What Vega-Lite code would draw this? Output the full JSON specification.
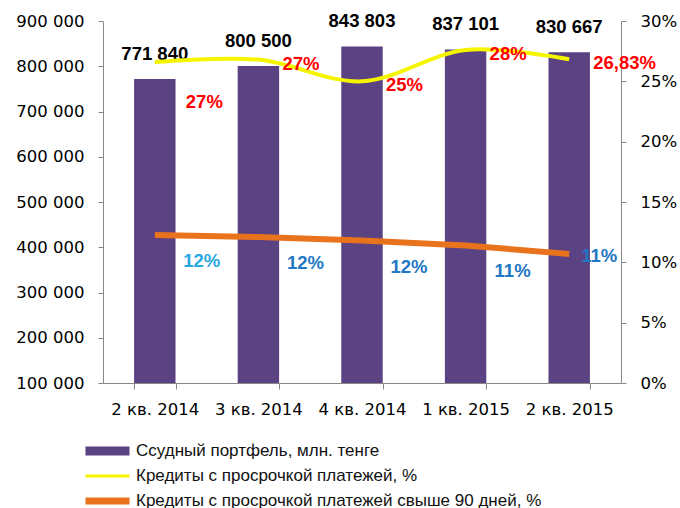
{
  "$schema": "https://vega.github.io/schema/vega-lite/v6.json",
  "width": 518,
  "height": 362,
  "autosize": "none",
  "padding": {"left": 103, "top": 21, "right": 59, "bottom": 125},
  "config": {
    "view": {"stroke": null},
    "font": "DejaVu Sans",
    "locale": {"number": {"decimal": ",", "thousands": " ", "grouping": [3], "currency": ["", ""]}}
  },
  "data": {
    "values": [
      {"q": "2 кв. 2014", "portfolio": 771840, "overdue": 0.266, "overdueLabel": "27%", "overdue90": 0.1226},
      {"q": "3 кв. 2014", "portfolio": 800500, "overdue": 0.268, "overdueLabel": "27%", "overdue90": 0.121},
      {"q": "4 кв. 2014", "portfolio": 843803, "overdue": 0.25, "overdueLabel": "25%", "overdue90": 0.118},
      {"q": "1 кв. 2015", "portfolio": 837101, "overdue": 0.276, "overdueLabel": "28%", "overdue90": 0.114},
      {"q": "2 кв. 2015", "portfolio": 830667, "overdue": 0.2683, "overdueLabel": "26,83%", "overdue90": 0.107}
    ]
  },
  "encoding": {
    "x": {
      "field": "q", "type": "nominal", "sort": null,
      "scale": {"paddingInner": 0.6, "paddingOuter": 0.3},
      "axis": {
        "title": null, "labelAngle": 0, "labelFontSize": 16.5, "labelColor": "#000",
        "domainColor": "#888", "tickColor": "#888", "tickSize": 6, "tickBand": "extent",
        "labelPadding": 12
      }
    }
  },
  "layer": [
    {
      "layer": [
        {
          "mark": {"type": "bar"},
          "encoding": {
            "y": {
              "field": "portfolio", "type": "quantitative",
              "scale": {"domain": [100000, 900000], "zero": false, "nice": false},
              "axis": {
                "title": null, "grid": false, "values": [100000, 200000, 300000, 400000, 500000, 600000, 700000, 800000, 900000],
                "labelExpr": "format(datum.value, ',.0f')", "labelFontSize": 16.5, "labelColor": "#000",
                "domainColor": "#888", "tickColor": "#888", "tickSize": 5, "labelPadding": 14
              }
            },
            "y2": {"datum": 100000},
            "color": {
              "datum": "Ссудный портфель, млн. тенге", "type": "nominal",
              "scale": {
                "domain": ["Ссудный портфель, млн. тенге", "Кредиты с просрочкой платежей, %", "Кредиты с просрочкой платежей свыше 90 дней, %"],
                "range": ["#5a4283", "#f5f500", "#e8731c"]
              },
              "legend": {
                "title": null, "orient": "none", "legendX": -5.5, "legendY": 420, "direction": "vertical",
                "padding": 0, "symbolSize": 400, "symbolOffset": 0, "labelOffset": 18.5, "rowPadding": 7,
                "labelFont": "Liberation Sans", "labelFontSize": 17, "labelColor": "#111", "labelLimit": 600,
                "symbolStrokeWidth": 0,
                "encode": {
                  "symbols": {
                    "update": {
                      "fill": {"scale": "color", "field": "value"},
                      "fillOpacity": {"value": 1},
                      "stroke": {"value": "transparent"},
                      "shape": {"signal": "datum.value === 'Ссудный портфель, млн. тенге' ? 'M-2.2,-0.45H2.2V0.45H-2.2Z' : (datum.value === 'Кредиты с просрочкой платежей, %' ? 'M-2.2,-0.15H2.2V0.15H-2.2Z' : 'M-2.2,-0.35H2.2V0.35H-2.2Z')"}
                    }
                  }
                }
              }
            }
          }
        },
        {
          "mark": {"type": "text", "baseline": "bottom", "dy": -15, "fontWeight": "bold", "font": "Liberation Sans", "fontSize": 18.5, "color": "#000"},
          "encoding": {
            "y": {"field": "portfolio", "type": "quantitative"},
            "text": {"field": "portfolio", "type": "quantitative", "format": ","}
          }
        }
      ]
    },
    {
      "layer": [
        {
          "mark": {"type": "line", "interpolate": "catmull-rom", "strokeWidth": 4},
          "encoding": {
            "y": {
              "field": "overdue", "type": "quantitative",
              "scale": {"domain": [0, 0.3], "nice": false},
              "axis": {
                "orient": "right", "title": null, "grid": false, "values": [0, 0.05, 0.1, 0.15, 0.2, 0.25, 0.3],
                "format": ".0%", "labelFontSize": 16.5, "labelColor": "#000",
                "domainColor": "#888", "tickColor": "#888", "tickSize": 5, "labelPadding": 14
              }
            },
            "color": {"datum": "Кредиты с просрочкой платежей, %", "type": "nominal"}
          }
        },
        {
          "mark": {"type": "line", "strokeWidth": 6},
          "encoding": {
            "y": {"field": "overdue90", "type": "quantitative"},
            "color": {"datum": "Кредиты с просрочкой платежей свыше 90 дней, %", "type": "nominal"}
          }
        },
        {
          "transform": [{"filter": "datum.q !== '2 кв. 2014'"}],
          "mark": {"type": "text", "align": "left", "baseline": "middle", "dx": 24, "dy": 4, "fontWeight": "bold", "font": "Liberation Sans", "fontSize": 18.5, "color": "#ff0000"},
          "encoding": {
            "y": {"field": "overdue", "type": "quantitative"},
            "text": {"field": "overdueLabel", "type": "nominal"}
          }
        },
        {
          "transform": [{"filter": "datum.q === '2 кв. 2014'"}],
          "mark": {"type": "text", "align": "left", "baseline": "middle", "dx": 31, "dy": 40, "fontWeight": "bold", "font": "Liberation Sans", "fontSize": 18.5, "color": "#ff0000"},
          "encoding": {
            "y": {"field": "overdue", "type": "quantitative"},
            "text": {"field": "overdueLabel", "type": "nominal"}
          }
        },
        {
          "transform": [{"filter": "datum.q !== '2 кв. 2015'"}],
          "mark": {"type": "text", "align": "center", "baseline": "middle", "dx": 47, "dy": 26, "fontWeight": "bold", "font": "Liberation Sans", "fontSize": 18.5},
          "encoding": {
            "y": {"field": "overdue90", "type": "quantitative"},
            "text": {"field": "overdue90", "type": "quantitative", "format": ".0%"},
            "color": {"condition": {"test": "datum.q === '2 кв. 2014'", "value": "#2aa8e0"}, "value": "#1f78c4"}
          }
        },
        {
          "transform": [{"filter": "datum.q === '2 кв. 2015'"}],
          "mark": {"type": "text", "align": "center", "baseline": "middle", "dx": 30, "dy": 2, "fontWeight": "bold", "font": "Liberation Sans", "fontSize": 18.5, "color": "#1f78c4"},
          "encoding": {
            "y": {"field": "overdue90", "type": "quantitative"},
            "text": {"field": "overdue90", "type": "quantitative", "format": ".0%"}
          }
        }
      ]
    }
  ],
  "resolve": {"scale": {"y": "independent"}}
}
